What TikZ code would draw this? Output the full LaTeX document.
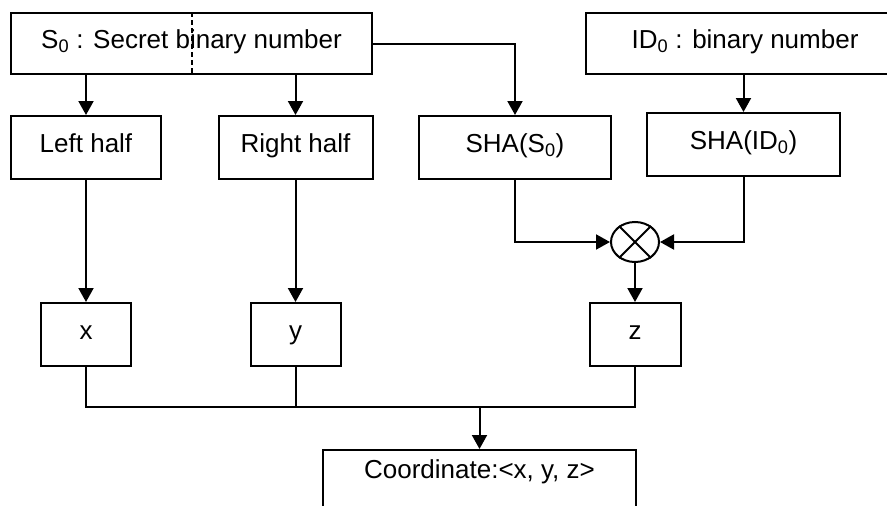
\documentclass[tikz,border=0pt]{standalone}
\usepackage{fontspec}
\setmainfont{Liberation Sans}
\usetikzlibrary{arrows.meta,shapes.geometric}
\begin{document}
\begin{tikzpicture}[x=1pt,y=-1pt,
  box/.style={draw, line width=2pt, inner sep=0pt, text height=19pt, text depth=10pt, font=\fontsize{26}{30}\selectfont},
  arr/.style={line width=2pt, -{Triangle[length=14pt,width=15pt]}},
  ln/.style={line width=2pt}]
\useasboundingbox (0,0) rectangle (887,506);
\clip (0,0) rectangle (887,506);
% top row
\node[box, minimum width=361pt, minimum height=61pt] (s0) at (191.5,43.5) {S\textsubscript{0} : Secret binary number};
\draw[line width=2pt, dash pattern=on 5pt off 3pt] (s0.north) -- (s0.south);
\node[box, minimum width=318pt, minimum height=61pt] (id) at (745,43.5) {ID\textsubscript{0} : binary number};
% second row
\node[box, minimum width=150pt, minimum height=63pt] (lh) at (86,147.5) {Left half};
\node[box, minimum width=154pt, minimum height=63pt] (rh) at (295.5,147.5) {Right half};
\node[box, minimum width=192pt, minimum height=63pt] (shas) at (515,147.5) {SHA(S\textsubscript{0})};
\node[box, minimum width=193pt, minimum height=63pt] (shaid) at (743.5,144.5) {SHA(ID\textsubscript{0})};
% combiner
\node[draw, ellipse, line width=2pt, minimum width=48pt, minimum height=40pt, inner sep=0pt] (m) at (635,242) {};
\draw[line width=2pt] (m.45) -- (m.225) (m.135) -- (m.315);
% third row
\node[box, minimum width=90pt, minimum height=63pt] (x) at (86,334.5) {x};
\node[box, minimum width=90pt, minimum height=63pt] (y) at (295.5,334.5) {y};
\node[box, minimum width=91pt, minimum height=63pt] (z) at (635,334.5) {z};
% output
\node[box, anchor=north, minimum width=313pt, text height=28pt, text depth=60pt] (co) at (479.5,449) {Coordinate:<x, y, z>};
\coordinate (bus) at (479.5,407);
% connectors
\draw[arr] (s0.south -| lh) -- (lh.north);
\draw[arr] (s0.south -| rh) -- (rh.north);
\draw[arr] (s0.east) -| (shas.north);
\draw[arr] (id.south -| shaid) -- (shaid.north);
\draw[arr] (shas.south) |- (m.west);
\draw[arr] (shaid.south) |- (m.east);
\draw[arr] (m.south) -- (z.north);
\draw[arr] (lh.south) -- (x.north);
\draw[arr] (rh.south) -- (y.north);
\draw[ln] (x.south) -- (x.south |- bus) -- (z.south |- bus) -- (z.south);
\draw[ln] (y.south) -- (y.south |- bus);
\draw[arr] (bus) -- (co.north);
\end{tikzpicture}
\end{document}
